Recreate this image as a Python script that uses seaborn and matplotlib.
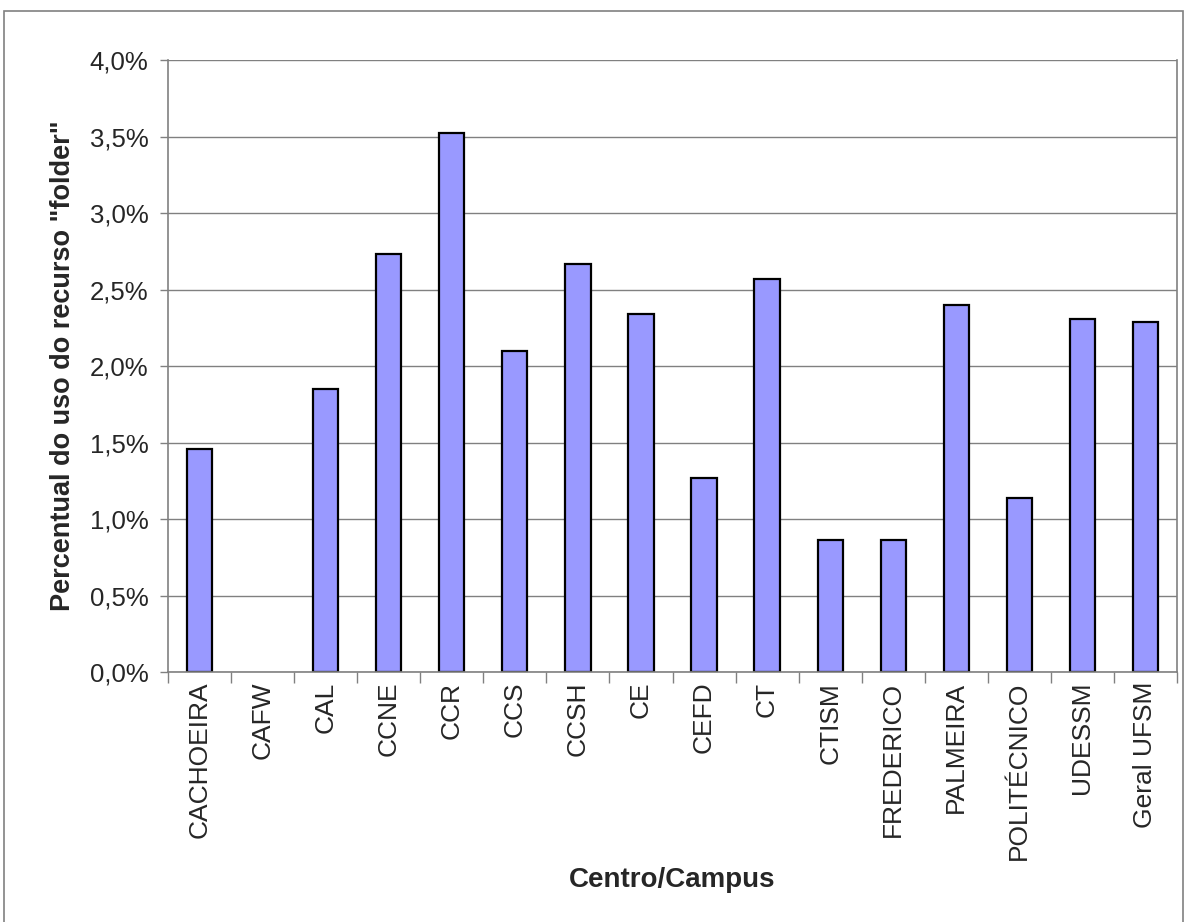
import numpy as np
import pandas as pd
from matplotlib import pyplot as plt
from matplotlib.patches import Rectangle
from matplotlib.ticker import FuncFormatter, FixedLocator
import seaborn as sns

sns.set_theme(style='white')
plt.rcParams['font.family'] = ['Liberation Sans', 'DejaVu Sans']

# data (percent)
centros = ['CACHOEIRA', 'CAFW', 'CAL', 'CCNE', 'CCR', 'CCS', 'CCSH', 'CE',
           'CEFD', 'CT', 'CTISM', 'FREDERICO', 'PALMEIRA', 'POLITÉCNICO',
           'UDESSM', 'Geral UFSM']
uso_folder = [1.46, 0.0, 1.85, 2.73, 3.52, 2.10, 2.67, 2.34,
              1.27, 2.57, 0.86, 0.86, 2.40, 1.14, 2.31, 2.29]
y_ticks = [0.0, 0.5, 1.0, 1.5, 2.0, 2.5, 3.0, 3.5, 4.0]

df = pd.DataFrame({'centro': centros, 'uso': uso_folder})

fig = plt.figure(figsize=(11.86, 9.22), dpi=100)
ax = fig.add_axes([0.1417, 0.2711, 0.8507, 0.6638])

sns.barplot(data=df, x='centro', y='uso', color='#9999FF', saturation=1,
            edgecolor='black', linewidth=1.6, width=0.4, ax=ax)

# empty bars (0%) show no outline in the original
for bar in ax.patches:
    if bar.get_height() == 0:
        bar.set_linewidth(0)

ax.set_ylim(0, 4.0)
ax.set_xlim(-0.5, len(centros) - 0.5)
ax.set_yticks(y_ticks)
ax.yaxis.set_major_formatter(FuncFormatter(lambda v, p: f'{v:.1f}%'.replace('.', ',')))
ax.yaxis.grid(True, color='#808080', linewidth=1.0)
ax.set_axisbelow(True)

# tick marks sit between categories, labels at centres
ax.xaxis.set_minor_locator(FixedLocator(np.arange(-0.5, len(centros), 1.0)))
ax.tick_params(axis='x', which='major', length=0, pad=7, labelsize=19,
               labelrotation=90)
ax.tick_params(axis='x', which='minor', bottom=True, length=8,
               color='#808080', width=1)
ax.tick_params(axis='y', left=True, length=6, color='#808080', width=1,
               pad=8, labelsize=18.5)

for lbl in ax.get_xticklabels():
    lbl.set_va('top')

for side in ['left', 'bottom', 'right']:
    ax.spines[side].set_color('#808080')
    ax.spines[side].set_linewidth(1.2)
ax.spines['top'].set_visible(False)

ax.set_xlabel('Centro/Campus', fontsize=20, fontweight='bold', labelpad=5)
ax.set_ylabel('Percentual do uso do recurso "folder"', fontsize=19.5,
              fontweight='bold', labelpad=10)

# chart-area border
fig.patches.append(Rectangle((4 / 1186, -0.01), 1179 / 1186, 1 - 11 / 922 + 0.01,
                             transform=fig.transFigure, fill=False,
                             edgecolor='#808080', linewidth=1.2))

plt.savefig('out.png', dpi=100)
